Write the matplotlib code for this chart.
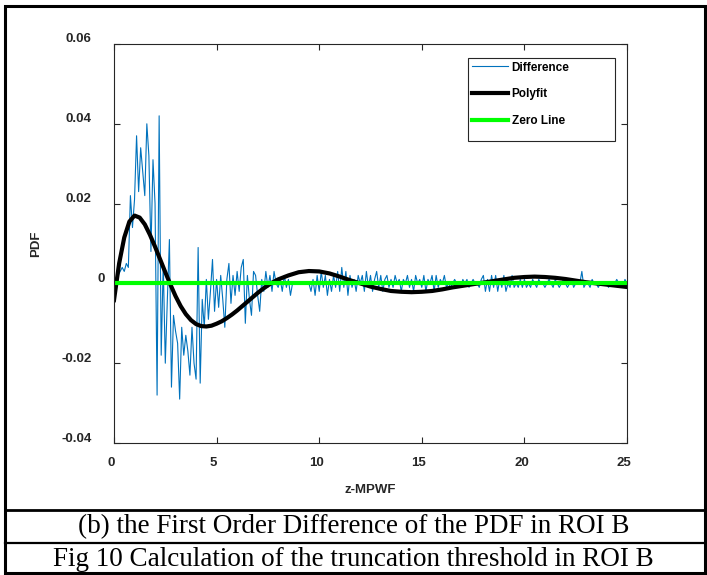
"""First order difference of the PDF in ROI B, with polyfit and zero line."""

import matplotlib
matplotlib.use("Agg")
import matplotlib.pyplot as plt
import matplotlib.transforms as mtransforms
from matplotlib.lines import Line2D
from matplotlib.patches import Rectangle
import numpy as np

# first order difference, sampled every 0.1 from 0 to 25
diff_x = np.round(np.arange(0, 25.05, 0.1), 1)
diff_y = [
    0.000, 0.001, 0.002, 0.003, 0.004, 0.003, 0.005, 0.004, 0.022, 0.014,
    0.021, 0.037, 0.023, 0.034, 0.028, 0.022, 0.040, 0.032, 0.008, 0.031,
    0.020, -0.028, 0.042, -0.018, 0.005, -0.020, -0.004, 0.011, -0.026, -0.008,
    -0.012, -0.015, -0.029, -0.011, -0.018, -0.013, -0.017, -0.023, -0.011, -0.020,
    -0.024, 0.009, -0.025, -0.004, -0.011, 0.001, -0.009, -0.002, 0.006, -0.007,
    0.001, -0.006, 0.002, -0.004, -0.011, 0.001, 0.005, -0.005, 0.002, -0.003,
    0.003, -0.002, 0.004, 0.006, -0.010, 0.002, -0.004, -0.008, 0.003, 0.002,
    -0.003, -0.007, 0.001, -0.002, 0.003, -0.001, 0.002, -0.002, 0.003, 0.000,
    -0.001, 0.001, -0.002, 0.002, -0.001, 0.001, -0.003, 0.000, 0.000, 0.000,
    0.000, 0.0003, -0.0002, 0.000, 0.0002, 0.000, -0.002, 0.001, -0.003, 0.002,
    -0.002, 0.003, -0.001, 0.002, -0.003, 0.001, -0.002, 0.002, -0.001, 0.003,
    -0.002, 0.004, -0.001, 0.003, -0.003, 0.002, -0.001, 0.001, -0.002, 0.002,
    0.000, 0.002, -0.002, 0.003, -0.001, 0.002, -0.002, 0.001, 0.003, -0.001,
    0.002, -0.002, 0.001, 0.002, -0.001, 0.001, -0.001, 0.002, 0.000, 0.001,
    -0.002, 0.001, 0.000, 0.002, -0.001, 0.001, -0.002, 0.002, 0.000, 0.001,
    -0.001, 0.002, -0.002, 0.001, 0.000, 0.002, -0.002, 0.002, -0.001, 0.001,
    0.000, 0.002, -0.001, 0.000, -0.001, 0.000, 0.001, 0.000, 0.000, -0.001,
    0.001, 0.000, 0.001, -0.001, 0.000, 0.001, 0.000, 0.000, -0.001, 0.001,
    0.002, -0.002, 0.001, -0.002, 0.002, -0.001, 0.002, -0.002, 0.001, -0.001,
    0.002, -0.002, 0.000, -0.001, 0.002, -0.001, 0.000, -0.001, 0.001, -0.001,
    0.001, -0.001, 0.000, -0.001, 0.001, 0.000, -0.001, 0.001, 0.000, 0.000,
    -0.001, 0.000, 0.001, 0.000, -0.001, 0.001, 0.000, -0.001, 0.000, 0.001,
    0.000, -0.001, 0.000, 0.001, -0.001, 0.000, 0.000, 0.000, 0.003, -0.001,
    0.000, 0.000, -0.001, 0.001, 0.000, 0.000, -0.001, 0.000, 0.000, 0.000,
    0.000, -0.001, 0.000, 0.000, 0.000, 0.001, 0.000, 0.000, -0.001, 0.001,
    0.000,
]

# polyfit curve (denser where it bends fast)
fit_x = [
    0.0, 0.25, 0.5, 0.75, 1.0, 1.25, 1.5, 1.75, 2.0, 2.25, 2.5, 2.75,
    3.0, 3.25, 3.5, 3.75, 4.0, 4.25, 4.5, 4.75, 5.0, 5.25, 5.5, 5.75,
    6.0, 6.25, 6.5, 6.75, 7.0, 7.25, 7.5, 7.75, 8.0, 8.5, 9.0, 9.5,
    10.0, 10.5, 11.0, 11.5, 12.0, 12.5, 13.0, 13.5, 14.0, 14.5, 15.0,
    15.5, 16.0, 16.5, 17.0, 17.5, 18.0, 18.5, 19.0, 19.5, 20.0, 20.5,
    21.0, 21.5, 22.0, 22.5, 23.0, 23.5, 24.0, 24.5, 25.0,
]
fit_y = [
    -0.0042, 0.0050, 0.0115, 0.0155, 0.0170, 0.0165, 0.0148, 0.0122,
    0.0092, 0.0060, 0.0028, -0.0003, -0.0032, -0.0057, -0.0077, -0.0092,
    -0.0102, -0.0107, -0.0108, -0.0106, -0.0101, -0.0095, -0.0087, -0.0078,
    -0.0068, -0.0057, -0.0046, -0.0035, -0.0024, -0.0014, -0.0005, 0.0003,
    0.0010, 0.0020, 0.0028, 0.0031, 0.0030, 0.0025, 0.0017, 0.0008,
    0.0000, -0.0008, -0.0014, -0.0019, -0.0021, -0.0022, -0.0021,
    -0.0019, -0.0015, -0.0010, -0.0006, -0.0002, 0.0002, 0.0006, 0.0010,
    0.0014, 0.0016, 0.0017, 0.0016, 0.0014, 0.0011, 0.0007, 0.0003,
    0.0000, -0.0003, -0.0006, -0.0009,
]

zero_x = [0, 25]
zero_y = [0, 0]

x_ticks = [0, 5, 10, 15, 20, 25]
y_ticks = [-0.04, -0.02, 0, 0.02, 0.04, 0.06]
y_tick_labels = ["-0.04", "-0.02", "0", "0.02", "0.04", "0.06"]

sans = ["Liberation Sans", "DejaVu Sans"]
serif = ["Liberation Serif", "DejaVu Serif"]
axis_color = "#262626"

fig = plt.figure(figsize=(7.07, 5.75), dpi=100)
ax = fig.add_axes([114 / 707, 132 / 575, 513 / 707, 399 / 575])

ax.plot(diff_x, diff_y, color="#0072BD", lw=0.8, label="Difference")
ax.plot(fit_x, fit_y, color="black", lw=3.0, label="Polyfit")
ax.plot(zero_x, zero_y, color="#00FF00", lw=3.0, label="Zero Line")

ax.set_xlim(0, 25)
ax.set_ylim(-0.04, 0.06)
ax.set_xticks(x_ticks)
ax.set_xticklabels([str(t) for t in x_ticks])
ax.set_yticks(y_ticks)
ax.set_yticklabels(y_tick_labels)

for spine in ax.spines.values():
    spine.set_color(axis_color)
    spine.set_linewidth(0.8)
ax.tick_params(direction="in", length=4, width=0.8, color=axis_color,
               top=True, right=True, labelsize=9.5)
ax.tick_params(axis="y", pad=16)
ax.tick_params(axis="x", pad=10)
for lab in ax.get_xticklabels() + ax.get_yticklabels():
    lab.set_fontfamily(sans)
    lab.set_fontweight("bold")
    lab.set_color(axis_color)

# the original labels sit a little up / left of their ticks,
# and its y "0" label is pushed right towards the axis
dpi_t = fig.dpi_scale_trans
for lab in ax.get_xticklabels():
    lab.set_transform(lab.get_transform()
                      + mtransforms.ScaledTranslation(-3 / 100, 0, dpi_t))
for lab in ax.get_yticklabels():
    dx = 13 / 100 if lab.get_text() == "0" else 0
    lab.set_transform(lab.get_transform()
                      + mtransforms.ScaledTranslation(dx, 6 / 100, dpi_t))

ax.set_xlabel("z-MPWF", fontsize=9.5, fontweight="bold", family=sans,
              color=axis_color, labelpad=11)
ax.set_ylabel("PDF", fontsize=9.5, fontweight="bold", family=sans,
              color=axis_color, labelpad=14)

# legend entries without frame, and a wider box drawn by hand
leg = ax.legend(loc="upper left", bbox_to_anchor=(0.690, 0.965),
                prop={"family": sans, "weight": "bold", "size": 8.5},
                frameon=False, handlelength=3.1, labelspacing=1.25,
                borderpad=0.3, handletextpad=0.3, borderaxespad=0)
ax.add_patch(Rectangle((0.690, 0.757), 0.2865, 0.208, transform=ax.transAxes,
                       fill=False, edgecolor=axis_color, lw=0.8, zorder=5))

# table-like frame around the figure and captions
fig.patches.append(Rectangle((5 / 707, 2 / 575), 700 / 707, 567 / 575,
                             transform=fig.transFigure, fill=False,
                             edgecolor="black", lw=2.2))
for y_px, lw in [(510, 2.0), (543, 1.6)]:
    fig.add_artist(Line2D([5 / 707, 705 / 707], [1 - y_px / 575] * 2,
                          transform=fig.transFigure, color="black", lw=lw))

fig.text(0.5, 1 - 527 / 575, "(b) the First Order Difference of the PDF in ROI B",
         ha="center", va="center", family=serif, fontsize=19.5)
fig.text(0.5, 1 - 560 / 575, "Fig 10 Calculation of the truncation threshold in ROI B",
         ha="center", va="center", family=serif, fontsize=19.5)

fig.savefig("out.png", dpi=100)
